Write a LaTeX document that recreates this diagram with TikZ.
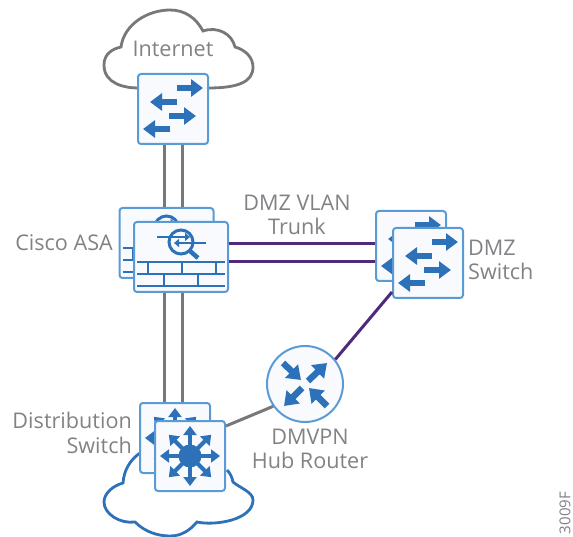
\documentclass[tikz,border=0pt]{standalone}
\usepackage{fontspec}
\setmainfont{Open Sans}
\usetikzlibrary{arrows.meta,calc}

\definecolor{iconblue}{HTML}{2D72B8}
\definecolor{boxedge}{HTML}{5B9BD5}
\definecolor{boxfill}{HTML}{F8FAFD}
\definecolor{labelgray}{HTML}{808285}
\definecolor{linkgray}{HTML}{77787B}
\definecolor{linkpurple}{HTML}{4F2A7A}

\tikzset{
    device/.style={draw=boxedge, fill=boxfill, line width=2, rounded corners=3, minimum width=70, minimum height=70, inner sep=0},
    widedevice/.style={device, minimum width=94},
    routerdevice/.style={circle, draw=boxedge, fill=boxfill, line width=2, minimum size=76, inner sep=0},
    devlabel/.style={text=labelgray, font=\fontsize{21.6}{24.5}\selectfont, align=center, inner sep=0},
    graylink/.style={draw=linkgray, line width=3},
    purplelink/.style={draw=linkpurple, line width=3},
    cloudline/.style={line width=2.8},
    bigarrow/.style={draw=iconblue, line width=5.6, -{Triangle[length=12,width=17,fill=iconblue]}},
    routearrow/.style={draw=iconblue, line width=6.4, -{Triangle[length=13,width=18,fill=iconblue]}},
    brickline/.style={draw=iconblue, line width=2.8},
    spokearrow/.style={draw=iconblue, line width=4, -{Triangle[length=9,width=13,fill=iconblue]}},
    lensarrow/.style={draw=iconblue, line width=2.2, -{Triangle[length=5,width=8,fill=iconblue]}},
}

% arrows of a switch, around its centre
\newcommand{\switcharrows}[1]{
    \draw[bigarrow] ($(#1.center)+(4,-21)$) -- ($(#1.center)+(30,-21)$);
    \draw[bigarrow] ($(#1.center)+(4,-7)$) -- ($(#1.center)+(-23,-7)$);
    \draw[bigarrow] ($(#1.center)+(-4,7)$) -- ($(#1.center)+(23,7)$);
    \draw[bigarrow] ($(#1.center)+(-3,20)$) -- ($(#1.center)+(-30,20)$);
}

% arrows of a multilayer switch
\newcommand{\spokearrows}[1]{
    \foreach \ang in {0,45,...,315}
        \draw[spokearrow] (#1.center) -- ++(\ang:30);
    \fill[iconblue] (#1.center) circle (11.5);
}

% firewall with its lens
\newcommand{\firewallicon}[1]{
    \foreach \yy in {5,17,29}
        \draw[brickline] ($(#1.center)+(-44,\yy)$) -- ++(88,0);
    \foreach \xx in {-33,1,35}
        \draw[brickline] ($(#1.center)+(\xx,5)$) -- ++(0,12);
    \foreach \xx in {-17,17}
        \draw[brickline] ($(#1.center)+(\xx,17)$) -- ++(0,12);
    \draw[draw=iconblue, line width=3] ($(#1.center)+(0,-15)$) circle (12);
    \draw[draw=iconblue, line width=4.5] ($(#1.center)+(9,-6)$) -- ++(8,7);
    \draw[lensarrow] ($(#1.center)+(-24,-20)$) -- ++(33,0);
    \draw[lensarrow] ($(#1.center)+(25,-14)$) -- ++(-32,0);
}

\begin{document}
\begin{tikzpicture}[x=1pt, y=-1pt]

    \useasboundingbox (0,0) rectangle (573,537);

    % the two clouds
    \draw[cloudline, draw=linkgray] (138,88) .. controls (125,88) and (104,84) .. (104,65)
        .. controls (104,54) and (112,49) .. (121,47)
        .. controls (124,24) and (148,10) .. (170,10)
        .. controls (185,10) and (196,18) .. (203,31)
        .. controls (218,26) and (232,34) .. (235,47)
        .. controls (246,50) and (253,58) .. (253,67)
        .. controls (253,82) and (238,88) .. (208,88);
    \draw[cloudline, draw=iconblue] (140,453) .. controls (130,460) and (124,470) .. (123,483)
        .. controls (112,486) and (104,494) .. (104,502)
        .. controls (104,514) and (120,524) .. (135,522)
        .. controls (145,532) and (158,536) .. (170,536)
        .. controls (182,536) and (190,530) .. (197,522)
        .. controls (215,526) and (253,520) .. (253,500)
        .. controls (253,492) and (240,488) .. (233,482)
        .. controls (232,477) and (230,473) .. (227,470);

    % the devices, back to front
    \node[device] (inetsw) at (173,109) {};
    \switcharrows{inetsw}
    \node[widedevice] (asaback) at (166.5,243) {};
    \firewallicon{asaback}
    \node[widedevice] (asafront) at (181,257) {};
    \firewallicon{asafront}
    \node[device] (dmzback) at (411,246) {};
    \switcharrows{dmzback}
    \node[device] (dmzfront) at (428,263) {};
    \switcharrows{dmzfront}
    \node[device] (distback) at (175,438) {};
    \spokearrows{distback}
    \node[device] (distfront) at (190,456) {};
    \spokearrows{distfront}
    \node[routerdevice] (hubrouter) at (305,384) {};
    \draw[routearrow] ($(hubrouter.center)+(3,-3)$) -- ++(19,-18);
    \draw[routearrow] ($(hubrouter.center)+(-3,4)$) -- ++(-18,18);
    \draw[routearrow] ($(hubrouter.center)+(-22,-21)$) -- ++(18,17);
    \draw[routearrow] ($(hubrouter.center)+(22,22)$) -- ++(-18,-18);

    % the links
    \draw[graylink] ([xshift=-9]inetsw.south) -- ([xshift=-9]inetsw.south |- asaback.north);
    \draw[graylink] ([xshift=9]inetsw.south) -- ([xshift=9]inetsw.south |- asaback.north);
    \draw[graylink] ([xshift=-17]asafront.south) -- ([xshift=-17]asafront.south |- distback.north);
    \draw[graylink] ([xshift=1]asafront.south) -- ([xshift=1]asafront.south |- distback.north);
    \draw[purplelink] ([yshift=13]asafront.east) -- ([yshift=13]asafront.east -| dmzback.west);
    \draw[purplelink] ([yshift=-5]asafront.east) -- ([yshift=-5]asafront.east -| dmzback.west);
    \draw[purplelink] (hubrouter.39) -- ([yshift=-29]dmzfront.west);
    \draw[graylink] (hubrouter.215) -- ([yshift=30]distfront.east);

    % the labels
    \node[devlabel] (inetlabel) at (173,49) {Internet};
    \node[devlabel] (trunklabel) at (297,215) {DMZ VLAN\\Trunk};
    \node[devlabel, anchor=east] (asalabel) at (113,243) {Cisco ASA};
    \node[devlabel, anchor=west, align=left] (dmzlabel) at (468,260) {DMZ\\Switch};
    \node[devlabel, anchor=east, align=right] (distlabel) at (132,433) {Distribution\\Switch};
    \node[devlabel] (hublabel) at (310,449) {DMVPN\\Hub Router};
    \node[text=labelgray, font=\fontsize{15}{18}\selectfont, rotate=90, inner sep=0] (figlabel) at (565,513) {3009F};

\end{tikzpicture}
\end{document}
